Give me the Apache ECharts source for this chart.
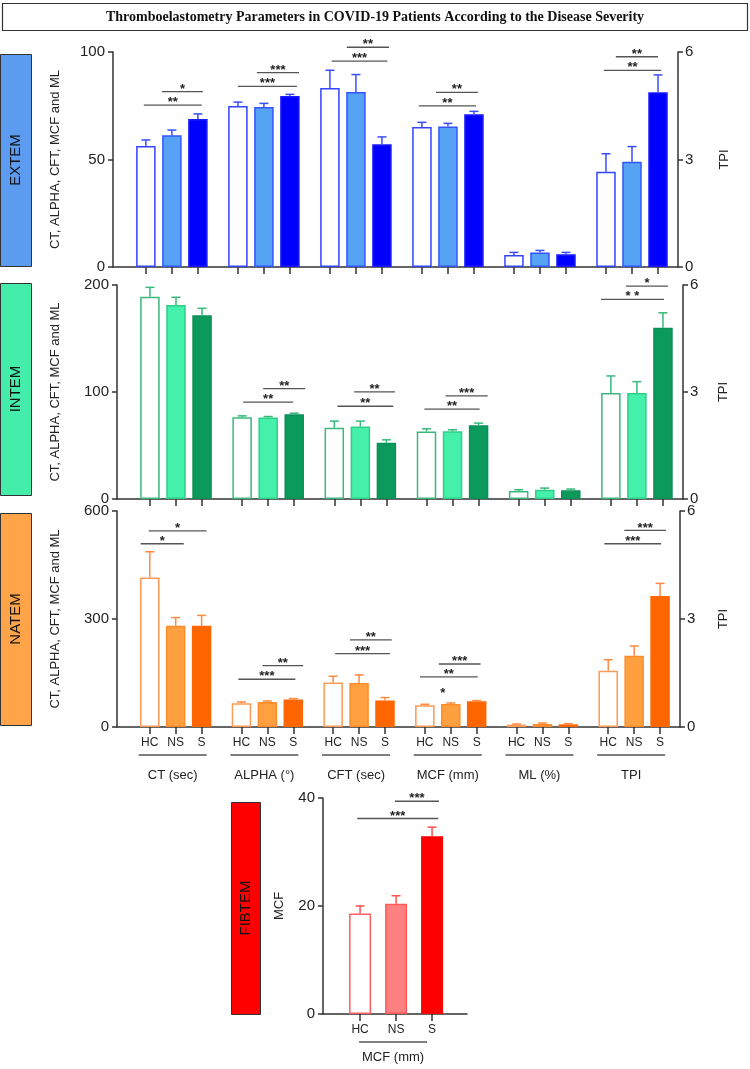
<!DOCTYPE html>
<html><head><meta charset="utf-8">
<script src="https://cdn.jsdelivr.net/npm/echarts@6/dist/echarts.min.js"></script>
<style>html,body{margin:0;padding:0;background:#fff}#c{width:750px;height:1069px}</style>
</head><body><div id="c"></div>
<script>
// ---------------- DATA ----------------
const groups = ['CT (sec)', 'ALPHA (°)', 'CFT (sec)', 'MCF (mm)', 'ML (%)', 'TPI'];
const barLabels = ['HC', 'NS', 'S'];
const leftTicksExtem = [0, 50, 100];
const leftTicksIntem = [0, 100, 200];
const leftTicksNatem = [0, 300, 600];
const tpiTicks = [0, 3, 6];
const fibtemTicks = [0, 20, 40];

// mean per group: [HC, NS, S]; last group (TPI) on right axis
const extemMean = [[56.3, 61.3, 68.8], [74.9, 74.4, 79.5], [83.3, 81.4, 57.1], [65.1, 65.3, 71.0], [5.6, 6.8, 5.9], [2.66, 2.94, 4.88]];
const extemSemTop = [[59.1, 63.7, 71.2], [76.7, 76.1, 80.3], [91.5, 89.5, 60.5], [67.3, 66.8, 72.4], [6.8, 7.7, 6.8], [3.16, 3.36, 5.36]];
// [group, fromBar, toBar, level (left axis units), stars]
const extemBrackets = [
  [0, 0.62, 2.19, 81.6, '*'], [0, -0.08, 2.15, 75.3, '**'],
  [1, 0.73, 2.35, 90.4, '***'], [1, 0.0, 2.27, 84.0, '***'],
  [2, 0.65, 2.27, 102.2, '**'], [2, 0.07, 2.21, 95.8, '***'],
  [3, 0.54, 2.15, 81.2, '**'], [3, -0.12, 2.08, 74.9, '**'],
  [5, 0.38, 2.0, 97.8, '**'], [5, -0.08, 2.12, 91.5, '**']];

const intemMean = [[189, 181.3, 171.7], [76.5, 76.1, 79.3], [66.5, 67.8, 52.5], [63.1, 63.4, 69.0], [7.4, 8.7, 8.1], [2.97, 2.97, 4.80]];
const intemSemTop = [[197.8, 188.5, 178.2], [77.7, 77.1, 80.2], [72.8, 72.8, 55.3], [65.6, 64.7, 70.9], [8.7, 10.2, 9.3], [3.45, 3.29, 5.22]];
const intemBrackets = [
  [1, 0.81, 2.42, 103.2, '**'], [1, 0.04, 1.96, 90.5, '**'],
  [2, 0.76, 2.33, 100.1, '**'], [2, 0.12, 2.26, 86.7, '**'],
  [3, 0.73, 2.35, 96.4, '***'], [3, -0.08, 2.04, 84.0, '**'],
  [5, 0.58, 2.19, 199, '*'], [5, -0.38, 2.04, 186.6, '* *']];

const natemMean = [[415.6, 281, 281], [66, 69.5, 76.2], [123.5, 122.4, 73.4], [60.4, 64, 71.5], [6.5, 8.3, 7.4], [1.56, 1.98, 3.64]];
const natemSemTop = [[486.8, 304, 310], [69.5, 72.3, 79], [141, 144.6, 81.8], [63.1, 66.8, 73.4], [8.3, 11, 9.2], [1.87, 2.25, 3.99]];
const natemBrackets = [
  [0, -0.04, 2.19, 545, '*'], [0, -0.35, 1.31, 509, '*'],
  [1, 0.81, 2.38, 170.7, '**'], [1, -0.12, 2.08, 132.7, '***'],
  [2, 0.65, 2.26, 242, '**'], [2, 0.08, 2.19, 204, '***'],
  [3, 0.54, 2.15, 175, '***'], [3, -0.19, 2.04, 139, '**'], [3, 0.69, 0.69, 85, '*'],
  [5, 0.62, 2.23, 546, '***'], [5, -0.15, 2.04, 509, '***']];

const fibtemGroups = ['MCF (mm)'];
const fibtemMean = [[18.6, 20.4, 32.9]];
const fibtemSemTop = [[20.0, 21.9, 34.6]];
const fibtemBrackets = [[0, 0.97, 2.19, 39.4, '***'], [0, -0.08, 2.17, 36.2, '***']];

// ---------------- STYLE / LAYOUT ----------------
const AXIS = '#333';
const panels = [
  {name: 'EXTEM', mean: extemMean, top_: extemSemTop, br: extemBrackets, ticks: leftTicksExtem, tpi: true,
   grid: {left: 113, right: 72, top: 52, height: 215}, xMin: -0.64, xMax: 5.5, step: 26 / 92, barW: 19.5,
   box: {x: 0, y: 54, w: 31, h: 212, c: '#5b9cf0'}, lGap: 51, rGap: 40, showLabels: false, names: groups,
   fill: ['#ffffff', '#56a3f6', '#0000ff'], border: ['#3344ff', '#3355ff', '#1a1aff'], err: '#3b4dff'},
  {name: 'INTEM', mean: intemMean, top_: intemSemTop, br: intemBrackets, ticks: leftTicksIntem, tpi: true,
   grid: {left: 117, right: 67, top: 285, height: 214}, xMin: -0.64, xMax: 5.5, step: 26 / 92, barW: 19.5,
   box: {x: 0, y: 283, w: 31, h: 212, c: '#44eeaa'}, lGap: 55, rGap: 34, showLabels: false, names: groups,
   fill: ['#ffffff', '#44f0aa', '#0b9a5c'], border: ['#3cb87c', '#2fcf88', '#0b9058'], err: '#36b97a'},
  {name: 'NATEM', mean: natemMean, top_: natemSemTop, br: natemBrackets, ticks: leftTicksNatem, tpi: true,
   grid: {left: 117, right: 70, top: 511, height: 216}, xMin: -0.64, xMax: 5.5, step: 26 / 92, barW: 19.5,
   box: {x: 0, y: 513, w: 31, h: 212, c: '#ffa448'}, lGap: 55, rGap: 37, showLabels: true, names: groups,
   labelGap: 48, fill: ['#ffffff', '#ffa040', '#ff6600'], border: ['#ff9a55', '#ff8c2a', '#ff6600'], err: '#ff8a40'},
  {name: 'FIBTEM', mean: fibtemMean, top_: fibtemSemTop, br: fibtemBrackets, ticks: fibtemTicks, tpi: false,
   grid: {left: 323, right: 283, top: 798, height: 216}, xMin: -2.03, xMax: 1.97, step: 1, barW: 22,
   box: {x: 231, y: 802, w: 29, h: 212, c: '#ff0000'}, lGap: 37, showLabels: true, names: fibtemGroups,
   labelGap: 43, fill: ['#ffffff', '#ff8080', '#ff0000'], border: ['#ff6060', '#ff5a5a', '#ff0000'], err: '#ff5050'}
];

function xPos(p, g, idx) { return g + (idx - 1) * p.step; }

const option = {animation: false, grid: [], xAxis: [], yAxis: [], series: [], graphic: []};
const axisLine = {show: true, onZero: false, lineStyle: {color: AXIS, width: 1.5}};

panels.forEach((p, i) => {
  option.grid.push(Object.assign({}, p.grid));
  const nG = p.mean.length;
  const positions = [];
  for (let g = 0; g < nG; g++) for (let b = 0; b < 3; b++) positions.push(xPos(p, g, b));
  const labelOf = v => {
    let best = 0, d = 1e9;
    positions.forEach((q, k) => { if (Math.abs(q - v) < d) { d = Math.abs(q - v); best = k; } });
    return barLabels[best % 3];
  };
  option.xAxis.push({
    type: 'value', gridIndex: i, min: p.xMin, max: p.xMax,
    axisLine: axisLine, splitLine: {show: false},
    axisTick: {show: true, length: 7, customValues: positions, lineStyle: {color: AXIS, width: 1.5}},
    axisLabel: {show: p.showLabels, customValues: positions, formatter: labelOf, fontSize: 12,
      color: '#222', margin: 10, fontFamily: 'Arial'}
  });
  const leftIdx = option.yAxis.length;
  const ymax = p.ticks[p.ticks.length - 1];
  option.yAxis.push({
    type: 'value', gridIndex: i, position: 'left', min: 0, max: ymax, interval: p.ticks[1] - p.ticks[0],
    axisLine: axisLine, splitLine: {show: false},
    axisTick: {show: true, length: 5, lineStyle: {color: AXIS, width: 1.5}},
    axisLabel: {fontSize: 15, color: '#222', margin: 8, fontFamily: 'Arial'},
    name: p.tpi ? 'CT, ALPHA, CFT, MCF and ML' : 'MCF', nameLocation: 'middle', nameGap: p.lGap,
    nameTextStyle: {fontSize: 13, color: '#222', fontFamily: 'Arial'}
  });
  let rightIdx = null;
  if (p.tpi) {
    rightIdx = option.yAxis.length;
    option.yAxis.push({
      type: 'value', gridIndex: i, position: 'right', min: 0, max: tpiTicks[2], interval: tpiTicks[1],
      axisLine: axisLine, splitLine: {show: false},
      axisTick: {show: true, length: 5, lineStyle: {color: AXIS, width: 1.5}},
      axisLabel: {fontSize: 15, color: '#222', margin: 7, fontFamily: 'Arial'},
      name: 'TPI', nameLocation: 'middle', nameGap: p.rGap,
      nameTextStyle: {fontSize: 13, color: '#222', fontFamily: 'Arial'}
    });
  }
  const leftGroups = p.tpi ? nG - 1 : nG;
  const errRender = (params, api) => {
    const x = api.value(0), m = api.value(1), t = api.value(2);
    const p0 = api.coord([x, m]), p1 = api.coord([x, t]);
    const cap = 4.5;
    return {type: 'group', children: [
      {type: 'line', shape: {x1: p0[0], y1: p0[1], x2: p1[0], y2: p1[1]}, style: {stroke: p.err, lineWidth: 1.5}},
      {type: 'line', shape: {x1: p1[0] - cap, y1: p1[1], x2: p1[0] + cap, y2: p1[1]}, style: {stroke: p.err, lineWidth: 1.5}}
    ]};
  };
  for (let b = 0; b < 3; b++) {
    const barStyle = {color: p.fill[b], borderColor: p.border[b], borderWidth: 1.5};
    const dl = [], el = [];
    for (let g = 0; g < leftGroups; g++) {
      dl.push([xPos(p, g, b), p.mean[g][b]]);
      el.push([xPos(p, g, b), p.mean[g][b], p.top_[g][b]]);
    }
    option.series.push({type: 'bar', name: p.name + ' ' + barLabels[b], xAxisIndex: i, yAxisIndex: leftIdx,
      data: dl, barWidth: p.barW, barGap: '-100%', itemStyle: barStyle, z: 2});
    option.series.push({type: 'custom', xAxisIndex: i, yAxisIndex: leftIdx, data: el, clip: false,
      encode: {x: 0, y: [1, 2]}, renderItem: errRender, z: 3});
    if (p.tpi) {
      const g = nG - 1;
      option.series.push({type: 'bar', name: p.name + ' TPI ' + barLabels[b], xAxisIndex: i, yAxisIndex: rightIdx,
        data: [[xPos(p, g, b), p.mean[g][b]]], barWidth: p.barW, barGap: '-100%', itemStyle: barStyle, z: 2});
      option.series.push({type: 'custom', xAxisIndex: i, yAxisIndex: rightIdx,
        data: [[xPos(p, g, b), p.mean[g][b], p.top_[g][b]]], clip: false,
        encode: {x: 0, y: [1, 2]}, renderItem: errRender, z: 3});
    }
  }
  // significance brackets
  option.series.push({type: 'custom', xAxisIndex: i, yAxisIndex: leftIdx, clip: false, z: 4,
    data: p.br.map(r => [xPos(p, r[0], r[1]), xPos(p, r[0], r[2]), r[3]]),
    encode: {x: [0, 1], y: 2},
    renderItem: (params, api) => {
      const r = p.br[params.dataIndex];
      const a = api.coord([api.value(0), api.value(2)]), c = api.coord([api.value(1), api.value(2)]);
      const ch = [];
      if (c[0] - a[0] > 1) ch.push({type: 'line', shape: {x1: a[0], y1: a[1], x2: c[0], y2: c[1]},
        style: {stroke: '#555', lineWidth: 1.3}});
      ch.push({type: 'text', x: (a[0] + c[0]) / 2, y: a[1] + 4,
        style: {text: r[4], textAlign: 'center', textVerticalAlign: 'bottom', fontSize: 13,
          fontWeight: 'bold', fill: '#222', fontFamily: 'Arial'}});
      return {type: 'group', children: ch};
    }});
  // group names under the axis
  if (p.showLabels) {
    option.series.push({type: 'custom', xAxisIndex: i, yAxisIndex: leftIdx, clip: false, z: 4,
      data: p.names.map((n, g) => [g, 0]),
      renderItem: (params, api) => {
        const q = api.coord([api.value(0), 0]);
        const cx = q[0] - 3;
        return {type: 'group', children: [
          {type: 'line', shape: {x1: cx - 34, y1: q[1] + 28, x2: cx + 34, y2: q[1] + 28},
            style: {stroke: '#555', lineWidth: 1.3}},
          {type: 'text', x: cx, y: q[1] + p.labelGap,
            style: {text: p.names[params.dataIndex], textAlign: 'center', textVerticalAlign: 'middle',
              fontSize: 13, fill: '#222', fontFamily: 'Arial'}}
        ]};
      }});
  }
  // coloured side box
  option.graphic.push({type: 'group', children: [
    {type: 'rect', shape: {x: p.box.x + 0.5, y: p.box.y + 0.5, width: p.box.w, height: p.box.h},
      style: {fill: p.box.c, stroke: '#333', lineWidth: 1}},
    {type: 'text', x: p.box.x + p.box.w / 2 + 0.5, y: p.box.y + p.box.h / 2, rotation: Math.PI / 2,
      style: {text: p.name, textAlign: 'center', textVerticalAlign: 'middle', fontSize: 15,
        fill: '#111', fontFamily: 'Arial'}}
  ]});
});

// title box
option.graphic.push({type: 'group', children: [
  {type: 'rect', shape: {x: 2.5, y: 3.5, width: 745, height: 27}, style: {fill: '#fff', stroke: '#333', lineWidth: 1.2}},
  {type: 'text', x: 375, y: 17, style: {text: 'Thromboelastometry Parameters in COVID-19 Patients According to the Disease Severity',
    textAlign: 'center', textVerticalAlign: 'middle', fontSize: 14, fontWeight: 'bold', fill: '#111',
    fontFamily: '"Liberation Serif", "DejaVu Serif", serif'}}
]});

const chart = echarts.init(document.getElementById('c'), null, {renderer: 'canvas'});
chart.setOption(option);
</script>
</body></html>
